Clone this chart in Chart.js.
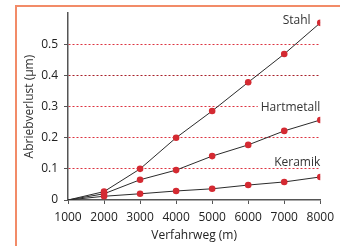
<!DOCTYPE html>
<html>
<head>
<meta charset="utf-8">
<script src="https://cdn.jsdelivr.net/npm/chart.js@4.4.1/dist/chart.umd.min.js"></script>
<style>
  body { margin: 0; background: #fff; }
  #wrap { position: relative; width: 340px; height: 246px; }
  #frame { position: absolute; left: 15px; top: 5px; right: 0; bottom: 0;
           border-left: 2px solid #f28b68; border-top: 2px solid #f28b68; }
  canvas { position: absolute; left: 0; top: 0; }
</style>
</head>
<body>
<div id="wrap">
  <div id="frame"></div>
  <canvas id="myChart" width="340" height="246"></canvas>
</div>
<script>
const ctx = document.getElementById('myChart').getContext('2d')

// data
const wege = [1000, 2000, 3000, 4000, 5000, 6000, 7000, 8000]
const stahl = [0, 0.027, 0.1, 0.2, 0.286, 0.378, 0.469, 0.569]
const hartmetall = [0, 0.02, 0.065, 0.096, 0.141, 0.177, 0.222, 0.257]
const keramik = [0, 0.012, 0.02, 0.029, 0.036, 0.048, 0.058, 0.074]
const yTicks = [0, 0.1, 0.2, 0.3, 0.4, 0.5]

// series names and where their text sits (right edge x, middle y)
const names = ['Stahl', 'Hartmetall', 'Keramik']
const nameX = [7730, 8000, 8000]
const nameY = [0.577, 0.298, 0.119]

const red = '#d42a32'
const font = { family: "'Open Sans', 'Noto Sans', sans-serif", size: 12 }

const makeSet = (values) => ({
    data: values.map((v, i) => ({ x: wege[i], y: v })),
    borderColor: '#2b2b2b',
    borderWidth: 1,
    backgroundColor: red,
    pointBackgroundColor: red,
    pointBorderWidth: 0,
    pointRadius: values.map((v, i) => i == 0 ? 0 : 3.3),
    tension: 0
})

const seriesNames = {
    id: 'seriesNames',
    afterDatasetsDraw(chart){
        const c = chart.ctx
        const xs = chart.scales.x
        const ys = chart.scales.y
        c.save()
        c.font = "12px 'Open Sans', 'Noto Sans', sans-serif"
        c.textAlign = 'right'
        c.textBaseline = 'middle'
        for(let i = 0; i < names.length; i++){
            const px = xs.getPixelForValue(nameX[i])
            const py = ys.getPixelForValue(nameY[i])
            if(names[i] == 'Hartmetall'){
                const w = c.measureText(names[i]).width
                c.fillStyle = '#fff'
                c.fillRect(px - w - 3, py - 6, w + 3, 12)
            }
            c.fillStyle = '#333'
            c.fillText(names[i], px, py)
        }
        c.restore()
    }
}

const chart = new Chart(ctx, {
    type: 'line',
    data: {
        datasets: [makeSet(stahl), makeSet(hartmetall), makeSet(keramik)]
    },
    options: {
        responsive: false,
        animation: false,
        layout: { padding: { left: 18, top: 13, right: 16, bottom: 0 } },
        plugins: {
            legend: { display: false },
            tooltip: { enabled: false }
        },
        scales: {
            x: {
                type: 'linear',
                min: 1000,
                max: 8000,
                afterBuildTicks: (s) => { s.ticks = wege.map(v => ({ value: v })) },
                afterFit: (s) => { s.height = 46 },
                ticks: { color: '#222', font: font, padding: 6, callback: (v) => String(v) },
                grid: { drawOnChartArea: false, drawTicks: true, tickLength: 4, tickColor: '#555' },
                border: { color: '#555', width: 1.5 },
                title: { display: true, text: 'Verfahrweg (m)', color: '#222', font: font, padding: { top: 2, bottom: 3 } }
            },
            y: {
                min: 0,
                max: 0.6,
                afterBuildTicks: (s) => { s.ticks = yTicks.map(v => ({ value: v })) },
                afterFit: (s) => { s.width = 50 },
                ticks: {
                    color: '#222',
                    font: font,
                    padding: 6,
                    callback: (v) => v == 0 ? '0' : v.toFixed(1)
                },
                grid: {
                    color: (c) => c.tick && c.tick.value == 0 ? 'rgba(0,0,0,0)' : (c.tick && c.tick.value == 0.4 ? '#a8202a' : '#dd3340'),
                    lineWidth: 1,
                    tickLength: 4,
                    tickColor: '#555'
                },
                border: { color: '#555', width: 1.5, dash: [2, 2] },
                title: { display: true, text: 'Abriebverlust (µm)', color: '#333', font: font, padding: { top: 4, bottom: 2 } }
            }
        }
    },
    plugins: [seriesNames]
})
</script>
</body>
</html>
